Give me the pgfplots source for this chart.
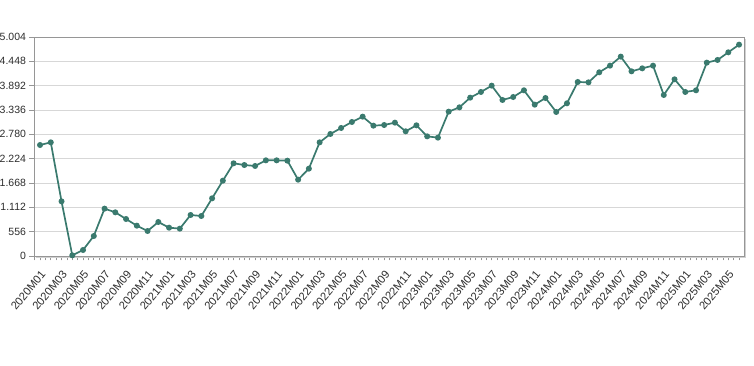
\documentclass[border=0pt]{standalone}
\usepackage{pgfplots}
\pgfplotsset{compat=1.18}
\usepackage{fontspec}
\setmainfont{Liberation Sans}
\definecolor{linec}{RGB}{58,122,110}
\definecolor{gridc}{RGB}{215,215,215}
\definecolor{axc}{RGB}{150,150,150}
\definecolor{txt}{RGB}{45,45,45}
\begin{document}
\begin{tikzpicture}
\useasboundingbox (0,0) rectangle (754pt,366pt);
\begin{axis}[
  at={(34pt,110pt)}, anchor=south west,
  scale only axis, width=710pt, height=219pt,
  xmin=-0.56, xmax=65.46, ymin=0, ymax=5004,
  xtick={0,2,...,64},
  minor xtick={-0.5,0,...,65.5},
  xticklabels={2020M01,2020M03,2020M05,2020M07,2020M09,2020M11,2021M01,2021M03,2021M05,2021M07,2021M09,2021M11,2022M01,2022M03,2022M05,2022M07,2022M09,2022M11,2023M01,2023M03,2023M05,2023M07,2023M09,2023M11,2024M01,2024M03,2024M05,2024M07,2024M09,2024M11,2025M01,2025M03,2025M05},
  xticklabel style={rotate=50, anchor=north east, font=\fontsize{11.2}{12}\selectfont, text=txt, inner sep=1pt},
  xticklabel shift=8pt,
  ytick={0,556,1112,1668,2224,2780,3336,3892,4448,5004},
  yticklabels={0,556,1.112,1.668,2.224,2.780,3.336,3.892,4.448,5.004},
  yticklabel style={font=\fontsize{10.5}{12}\selectfont, text=txt},
  tick align=outside, tick pos=left,
  major tick length=4.5pt, minor tick length=4.5pt,
  tick style={axc, line width=0.6pt},
  ymajorgrids, major grid style={gridc, line width=0.8pt},
  axis line style={axc, line width=0.8pt},
  clip=false,
]
\draw[black!18, line width=1.6pt] ([xshift=1.6pt,yshift=-1.6pt]axis description cs:0,0) -- ([xshift=1.6pt,yshift=-1.6pt]axis description cs:1,0) -- ([xshift=1.6pt,yshift=-1.6pt]axis description cs:1,1);
\addplot[linec, line width=1.7pt, mark=*, mark size=2.1pt, mark options={fill=linec, draw=linec}] coordinates {
(0,2536)(1,2597)(2,1249)(3,15)(4,137)(5,457)(6,1082)(7,998)(8,845)(9,693)(10,571)(11,777)
(12,647)(13,625)(14,937)(15,914)(16,1318)(17,1721)(18,2118)(19,2079)(20,2057)(21,2186)(22,2186)(23,2178)
(24,1744)(25,1996)(26,2597)(27,2788)(28,2925)(29,3062)(30,3184)(31,2978)(32,2993)(33,3047)(34,2849)(35,2986)
(36,2734)(37,2704)(38,3298)(39,3397)(40,3618)(41,3748)(42,3892)(43,3565)(44,3633)(45,3786)(46,3458)(47,3610)
(48,3291)(49,3489)(50,3976)(51,3968)(52,4197)(53,4349)(54,4555)(55,4220)(56,4288)(57,4349)(58,3679)(59,4037)
(60,3748)(61,3786)(62,4418)(63,4479)(64,4654)(65,4829)
};
\end{axis}
\end{tikzpicture}
\end{document}
